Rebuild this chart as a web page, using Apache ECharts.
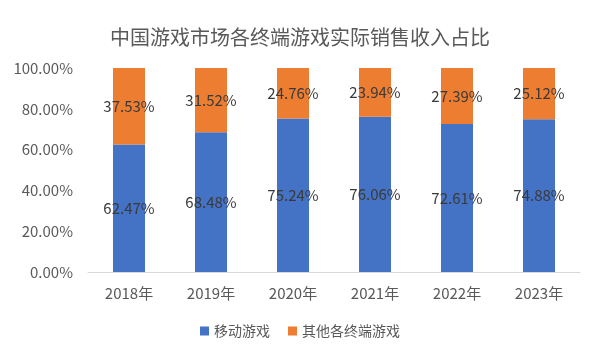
<!DOCTYPE html>
<html><head><meta charset="utf-8">
<script src="https://cdn.jsdelivr.net/npm/echarts@6/dist/echarts.min.js"></script>
<style>html,body{margin:0;padding:0;background:#fff}#c{width:600px;height:360px}</style>
</head><body><div id="c"></div>
<script>
const title = '中国游戏市场各终端游戏实际销售收入占比';
const categories = ['2018年','2019年','2020年','2021年','2022年','2023年'];
const seriesNames = ['移动游戏','其他各终端游戏'];
const mobile = [62.47, 68.48, 75.24, 76.06, 72.61, 74.88];
const other = [37.53, 31.52, 24.76, 23.94, 27.39, 25.12];
const font = '"Noto Sans CJK SC", "Noto Sans", sans-serif';
const chart = echarts.init(document.getElementById('c'));
const lbl = {show:true, position:'inside', color:'#3a3a3a', fontSize:15, fontFamily:font,
  formatter: p => p.value.toFixed(2) + '%'};
chart.setOption({
  backgroundColor:'#fff',
  animation:false,
  title:{text:title, left:'center', top:22, textStyle:{fontSize:20, fontWeight:'normal', color:'#595959', fontFamily:font}},
  grid:{left:88, right:20, top:68, bottom:88},
  legend:{bottom:17, left:'center', itemWidth:9, itemHeight:9, itemGap:18, icon:'rect',
    textStyle:{fontSize:14, color:'#595959', fontFamily:font}},
  xAxis:{type:'category', data:categories, axisTick:{show:false},
    axisLine:{lineStyle:{color:'#d9d9d9'}},
    axisLabel:{fontSize:15, color:'#595959', fontFamily:font, margin:14}},
  yAxis:{type:'value', min:0, max:100, interval:20, splitLine:{show:false},
    axisLabel:{fontSize:15, color:'#595959', fontFamily:font, margin:15, formatter: v => v.toFixed(2)+'%'}},
  series:[
    {name:seriesNames[0], type:'bar', stack:'a', data:mobile, barWidth:32, itemStyle:{color:'#4472C4'}, label:lbl},
    {name:seriesNames[1], type:'bar', stack:'a', data:other, barWidth:32, itemStyle:{color:'#ED7D31'}, label:lbl}
  ]
});
</script></body></html>
